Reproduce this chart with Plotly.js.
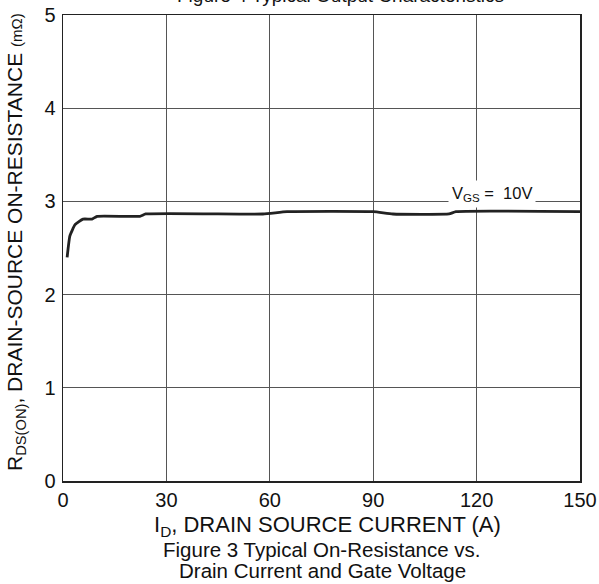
<!DOCTYPE html>
<html>
<head>
<meta charset="utf-8">
<script src="https://cdn.plot.ly/plotly-3.0.1.min.js"></script>
<style>html,body{margin:0;padding:0;background:#fff;}#chart{width:599px;height:584px;}</style>
</head>
<body>
<div id="chart"></div>
<script>
var currentA = [1.2, 2.0, 3.5, 5.8, 8.4, 9.9, 22.3, 24, 58, 65, 90, 95.7, 112, 114, 150];
var resistance = [2.40, 2.63, 2.75, 2.81, 2.81, 2.84, 2.84, 2.865, 2.865, 2.89, 2.89, 2.865, 2.865, 2.89, 2.89];
var xTicks = [0, 30, 60, 90, 120, 150];
var yTicks = [0, 1, 2, 3, 4, 5];

var F = 'Liberation Sans, Arial, sans-serif';
var trace = {
  x: currentA, y: resistance, mode: 'lines', type: 'scatter',
  line: {color: '#222', width: 2.8, shape: 'spline', smoothing: 0.4},
  hoverinfo: 'skip', showlegend: false
};
var layout = {
  width: 599, height: 584,
  margin: {l: 63, r: 19, t: 15, b: 103},
  paper_bgcolor: '#fff', plot_bgcolor: '#fff',
  font: {family: F, color: '#111', size: 19},
  xaxis: {
    range: [0, 150], tickvals: xTicks, ticktext: xTicks.map(String),
    showgrid: true, gridcolor: '#555', gridwidth: 1,
    showline: true, linecolor: '#222', linewidth: 1.5, mirror: true,
    ticks: '', zeroline: false, ticklabelstandoff: 0,
    tickfont: {family: F, size: 20, color: '#111'}
  },
  yaxis: {
    range: [0, 5], tickvals: yTicks, ticktext: yTicks.map(String),
    showgrid: true, gridcolor: '#555', gridwidth: 1,
    showline: true, linecolor: '#222', linewidth: 1.5, mirror: true,
    ticks: '', zeroline: false, ticklabelstandoff: 2,
    tickfont: {family: F, size: 20, color: '#111'}
  },
  annotations: [
    {text: 'V<sub>GS</sub> =  10V', x: 124.5, y: 3.08, xref: 'x', yref: 'y',
     showarrow: false, bgcolor: '#fff', font: {family: F, size: 16.5, color: '#111'}, borderpad: 3},
    {text: 'I<sub>D</sub>, DRAIN SOURCE CURRENT (A)', x: 0.494, y: 525, xref: 'paper', yref: 'paper',
     showarrow: false, font: {family: F, size: 22, color: '#111'}},
    {text: 'Figure 3 Typical On-Resistance vs.', xref: 'paper', yref: 'paper', x: 0.49, y: 0,
     showarrow: false, font: {family: F, size: 20.5, color: '#111'}},
    {text: 'Drain Current and Gate Voltage', xref: 'paper', yref: 'paper', x: 0.49, y: 0,
     showarrow: false, font: {family: F, size: 20.5, color: '#111'}},
    {text: 'R<sub>DS(ON)</sub>, DRAIN-SOURCE ON-RESISTANCE <span style="font-size:15px">(mΩ)</span>',
     xref: 'paper', yref: 'paper', x: 0, y: 0.5, textangle: -90, showarrow: false,
     font: {family: F, size: 21, color: '#111'}},
    {text: 'Figure 4 Typical Output Characteristics', xref: 'paper', yref: 'paper', x: 0.5, y: 1,
     showarrow: false, font: {family: F, size: 19, color: '#111'}}
  ]
};
var plotH = 584 - 15 - 103, plotW = 599 - 63 - 19;
function py(pix) { return (584 - 103 - pix) / plotH; }
function px(pix) { return (pix - 63) / plotW; }
var a = layout.annotations;
a.forEach(function (t) { t.xanchor = 'center'; t.yanchor = 'middle'; });
a[1].x = px(327); a[1].y = py(526);
a[2].x = px(322); a[2].y = py(549);
a[3].x = px(322); a[3].y = py(570);
a[4].x = px(16); a[4].y = py(242);
a[5].x = px(340); a[5].y = py(-4);
Plotly.newPlot('chart', [trace], layout, {displayModeBar: false, staticPlot: true});
</script>
</body>
</html>
